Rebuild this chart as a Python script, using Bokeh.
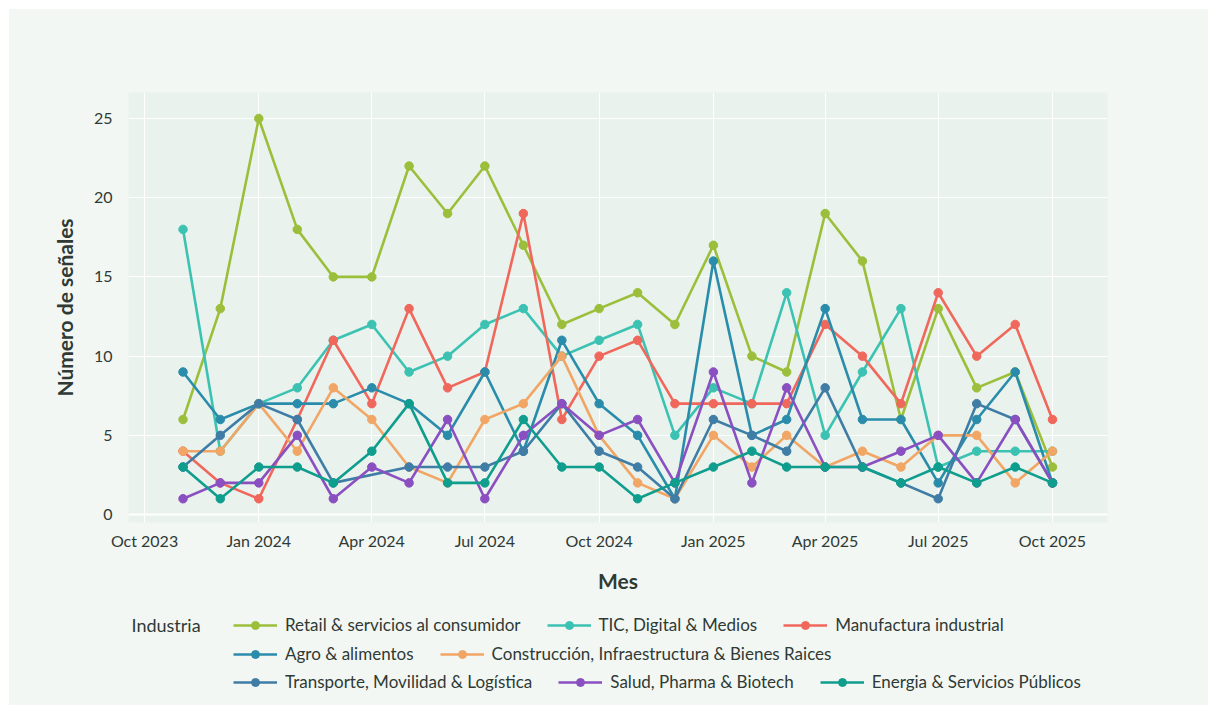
import pandas as pd

from bokeh.embed import file_html
from bokeh.layouts import column
from bokeh.models import (DatetimeTickFormatter, FixedTicker, Label, Legend,
                          LegendItem, Range1d, Span)
from bokeh.plotting import figure
from bokeh.resources import INLINE

# Monthly signal counts per industry, Nov 2023 - Oct 2025
months = ["2023-11", "2023-12", "2024-01", "2024-02", "2024-03", "2024-04",
          "2024-05", "2024-06", "2024-07", "2024-08", "2024-09", "2024-10",
          "2024-11", "2024-12", "2025-01", "2025-02", "2025-03", "2025-04",
          "2025-05", "2025-06", "2025-07", "2025-08", "2025-09", "2025-10"]

retail = [6, 13, 25, 18, 15, 15, 22, 19, 22, 17, 12, 13,
          14, 12, 17, 10, 9, 19, 16, 6, 13, 8, 9, 3]
tic = [18, 4, 7, 8, 11, 12, 9, 10, 12, 13, 10, 11,
       12, 5, 8, 7, 14, 5, 9, 13, 3, 4, 4, 4]
manufactura = [4, 2, 1, 6, 11, 7, 13, 8, 9, 19, 6, 10,
               11, 7, 7, 7, 7, 12, 10, 7, 14, 10, 12, 6]
agro = [9, 6, 7, 7, 7, 8, 7, 5, 9, 4, 11, 7,
        5, 1, 16, 5, 6, 13, 6, 6, 2, 6, 9, 2]
construccion = [4, 4, 7, 4, 8, 6, 3, 2, 6, 7, 10, 5,
                2, 1, 5, 3, 5, 3, 4, 3, 5, 5, 2, 4]
# no Transporte signals recorded for April 2024
transporte = [3, 5, 7, 6, 2, None, 3, 3, 3, 4, 7, 4,
              3, 1, 6, 5, 4, 8, 3, 2, 1, 7, 6, 2]
salud = [1, 2, 2, 5, 1, 3, 2, 6, 1, 5, 7, 5,
         6, 2, 9, 2, 8, 3, 3, 4, 5, 2, 6, 2]
energia = [3, 1, 3, 3, 2, 4, 7, 2, 2, 6, 3, 3,
           1, 2, 3, 4, 3, 3, 3, 2, 3, 2, 3, 2]

industries = ["Retail & servicios al consumidor", "TIC, Digital & Medios",
              "Manufactura industrial", "Agro & alimentos",
              "Construcción, Infraestructura & Bienes Raices",
              "Transporte, Movilidad & Logística", "Salud, Pharma & Biotech",
              "Energia & Servicios Públicos"]
series = [retail, tic, manufactura, agro, construccion, transporte, salud, energia]
colors = ["#9bbf3b", "#3cc2b2", "#f0675c", "#2a8cab",
          "#f2a665", "#3f7da6", "#8a4fc0", "#0f9d8d"]

tick_dates = ["2023-10-01", "2024-01-01", "2024-04-01", "2024-07-01",
              "2024-10-01", "2025-01-01", "2025-04-01", "2025-07-01",
              "2025-10-01"]
y_ticks = [0, 5, 10, 15, 20, 25]

FONT = "Lato"
TEXT = "#2f3a35"
CARD = "#f3f7f4"

dates = pd.to_datetime(months, format="%Y-%m")
tick_ms = [pd.Timestamp(d).value / 1e6 for d in tick_dates]

x_start = pd.Timestamp("2023-10-01") - pd.Timedelta(days=12.9)
x_end = pd.Timestamp("2025-10-01") + pd.Timedelta(days=44.3)


def points(vals):
    """Dates and counts of the months that have a value."""
    xs = [d for d, v in zip(dates, vals) if v is not None]
    ys = [v for v in vals if v is not None]
    return xs, ys


p = figure(x_axis_type="datetime", output_backend="svg", toolbar_location=None,
           frame_width=979, frame_height=430,
           min_border_left=119, min_border_right=101,
           min_border_top=83, min_border_bottom=75,
           x_range=Range1d(x_start, x_end), y_range=Range1d(-0.5, 26.64),
           background_fill_color="#e9f2ec", border_fill_color=CARD,
           outline_line_color=None)

p.xgrid.ticker = FixedTicker(ticks=tick_ms)
p.ygrid.ticker = FixedTicker(ticks=y_ticks)
for g in (p.xgrid[0], p.ygrid[0]):
    g.grid_line_color = "white"
    g.grid_line_width = 1

p.add_layout(Span(location=0, dimension="width", line_color="white", line_width=2))

# one line + marker pair per industry
for vals, col in zip(series, colors):
    xs, ys = points(vals)
    p.line(xs, ys, line_color=col, line_width=2.6)
    p.scatter(xs, ys, size=8.5, fill_color=col, line_color=col)

xa, ya = p.xaxis[0], p.yaxis[0]
xa.ticker = FixedTicker(ticks=tick_ms)
xa.formatter = DatetimeTickFormatter(months="%b %Y", days="%b %Y", years="%b %Y")
ya.ticker = FixedTicker(ticks=y_ticks)
for ax in (xa, ya):
    ax.axis_line_color = None
    ax.major_tick_line_color = None
    ax.minor_tick_line_color = None
    ax.major_tick_out = 0
    ax.minor_tick_out = 0
    ax.major_label_text_font = FONT
    ax.major_label_text_font_size = "16px"
    ax.major_label_text_color = TEXT
    ax.axis_label_text_font = FONT
    ax.axis_label_text_font_size = "21px"
    ax.axis_label_text_font_style = "bold"
    ax.axis_label_text_color = TEXT
xa.axis_label = "Mes"
ya.axis_label = "Número de señales"
xa.major_label_standoff = 8
xa.axis_label_standoff = 15
ya.major_label_standoff = 16
ya.axis_label_standoff = 14

# legend strip under the chart: three horizontal rows titled "Industria"
lg = figure(width=1199, height=108, output_backend="svg", toolbar_location=None,
            x_axis_location=None, y_axis_location=None,
            min_border=0, background_fill_color=CARD, border_fill_color=CARD,
            outline_line_color=None, x_range=Range1d(0, 1), y_range=Range1d(0, 1))
lg.grid.visible = False

# hidden copies of the series, used only as legend keys
keys = []
for vals, col in zip(series, colors):
    xs, ys = points(vals)
    ln = lg.line(xs, ys, line_color=col, line_width=2.6, visible=False)
    sc = lg.scatter(xs, ys, size=8.5, fill_color=col, line_color=col, visible=False)
    keys.append([ln, sc])

rows = [[0, 1, 2], [3, 4], [5, 6, 7]]
row_bottoms = [70, 41, 13]
for row, y0 in zip(rows, row_bottoms):
    items = [LegendItem(label=industries[i], renderers=keys[i]) for i in row]
    leg = Legend(items=items, orientation="horizontal", location=(105, y0),
                 padding=0, margin=0, spacing=26, glyph_width=44,
                 glyph_height=20, label_height=20, label_standoff=8,
                 label_text_font=FONT, label_text_font_size="17px",
                 label_text_color=TEXT, border_line_alpha=0,
                 background_fill_alpha=0, inactive_fill_alpha=0)
    lg.add_layout(leg)

lg.add_layout(Label(x=3, y=81, x_units="screen", y_units="screen",
                    text="Industria", text_baseline="middle",
                    text_font=FONT, text_font_size="18px", text_color=TEXT))

page = column(p, lg, spacing=0, margin=(9, 9, 8, 9), background=CARD)
open("out.html", "w").write(file_html(page, INLINE))
